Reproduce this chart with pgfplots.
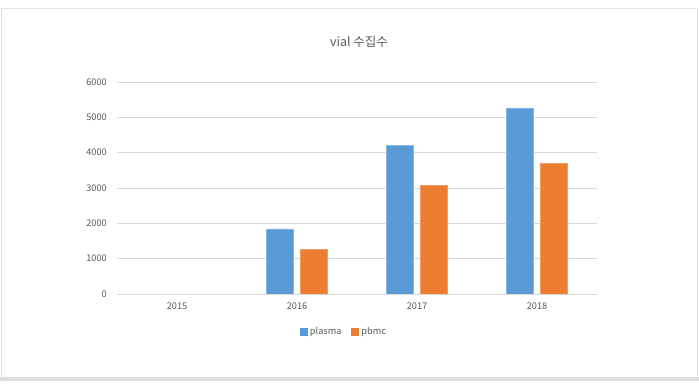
\documentclass[border=0pt]{standalone}
\usepackage{pgfplots}
\pgfplotsset{compat=1.18}
\usepackage{fontspec}
\setmainfont{Noto Sans CJK KR}
\definecolor{cblue}{HTML}{5B9BD5}
\definecolor{corange}{HTML}{ED7D31}
\definecolor{cgrid}{HTML}{D9D9D9}
\definecolor{ctext}{HTML}{595959}
\definecolor{cframe}{HTML}{E3E3E3}
\definecolor{cstrip}{HTML}{DDDDDD}
\begin{document}
\begin{tikzpicture}
\useasboundingbox (0pt,0pt) rectangle (699pt,387pt);
\fill[white] (0pt,0pt) rectangle (699pt,387pt);
\fill[cstrip] (0pt,6pt) rectangle (699pt,10pt);
\draw[cframe,line width=1pt] (1.5pt,9.5pt) rectangle (697.5pt,378.5pt);
\node[text=ctext,font=\fontsize{12.5}{14}\selectfont] at (359pt,345pt) {vial 수집수};
\begin{axis}[
  at={(117pt,93pt)}, anchor=south west,
  scale only axis, width=480pt, height=212pt,
  ybar=7pt, bar width=27pt,
  xmin=-0.5, xmax=3.5, ymin=0, ymax=6000,
  xtick={0,1,2,3}, xticklabels={2015,2016,2017,2018},
  ytick={0,1000,...,6000},
  ymajorgrids, grid style={cgrid,line width=0.8pt},
  axis line style={draw=none},
  major tick length=0pt,
  /pgf/number format/assume math mode=true,
  /pgf/number format/1000 sep={},
  tick label style={text=ctext,font=\fontsize{9.2}{10}\selectfont},
  yticklabel style={inner sep=0pt,xshift=-10pt},
  xticklabel style={inner sep=0pt,yshift=-9pt},
  legend style={at={(0.473,-0.178)},anchor=center,draw=none,
    legend columns=2,font=\fontsize{9.2}{10}\selectfont,text=ctext,
    /tikz/every even column/.append style={column sep=8pt}},
  legend image code/.code={\fill[#1,draw=none] (0pt,-4pt) rectangle (8pt,4pt);},
]
\addplot[fill=cblue,draw=cblue!75!white,line width=0.6pt] coordinates {(1,1840) (2,4200) (3,5250)};
\addplot[fill=corange,draw=corange!75!white,line width=0.6pt] coordinates {(1,1270) (2,3080) (3,3700)};
\legend{plasma,pbmc}
\end{axis}
\end{tikzpicture}
\end{document}
